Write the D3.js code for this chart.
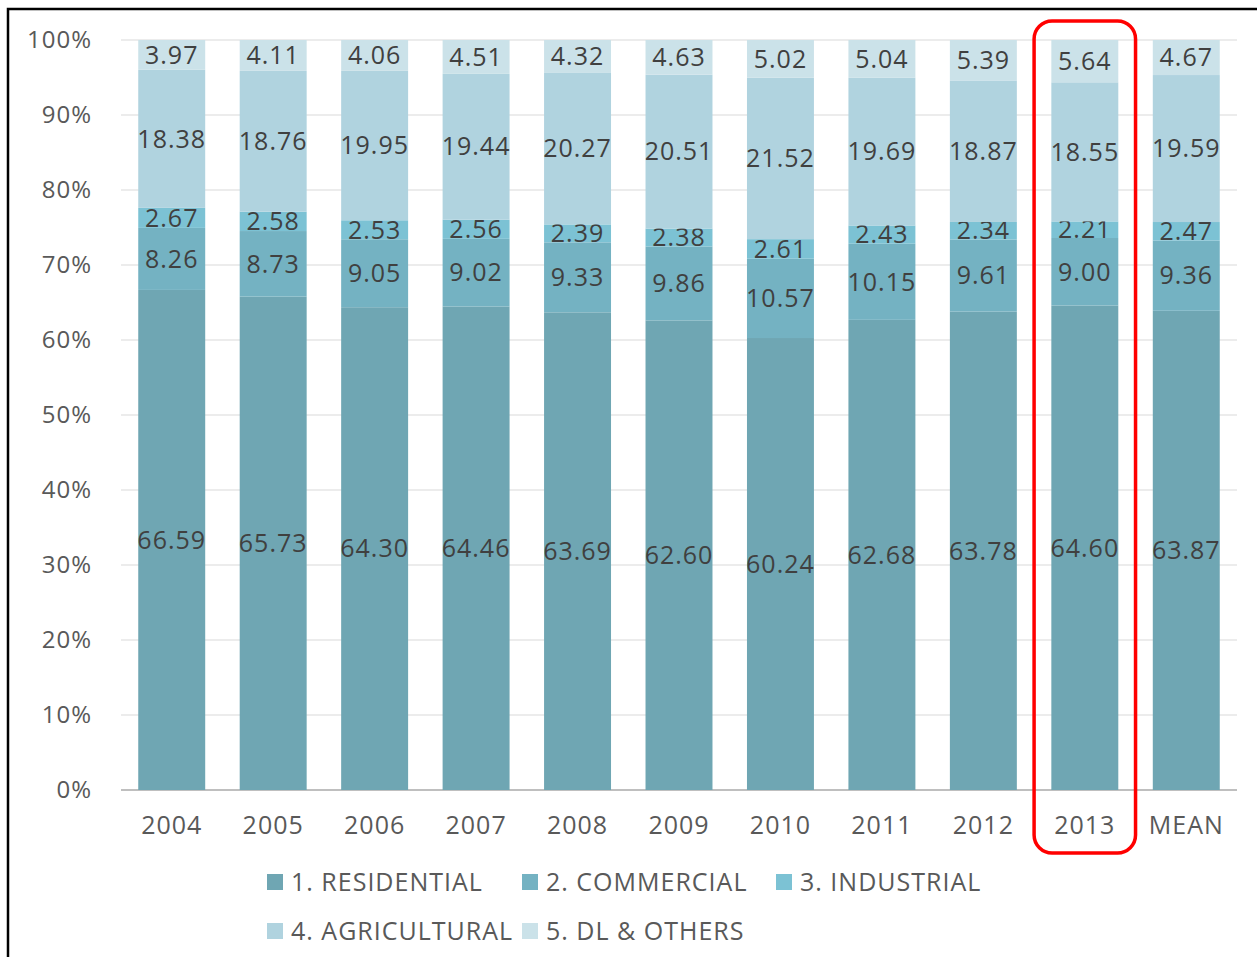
<!DOCTYPE html>
<html>
<head>
<meta charset="utf-8">
<script src="https://cdn.jsdelivr.net/npm/d3@7"></script>
<style>
  body { margin: 0; background: #fff; }
  text { font-family: "Open Sans", "DejaVu Sans", sans-serif; letter-spacing: 1px; }
</style>
</head>
<body>
<div id="chart"></div>
<script>
// categories and series (percent shares)
const categories = ['2004', '2005', '2006', '2007', '2008', '2009', '2010', '2011', '2012', '2013', 'MEAN'];
const seriesNames = ['1. RESIDENTIAL', '2. COMMERCIAL', '3. INDUSTRIAL', '4. AGRICULTURAL', '5. DL & OTHERS'];
const residential = [66.59, 65.73, 64.30, 64.46, 63.69, 62.60, 60.24, 62.68, 63.78, 64.60, 63.87];
const commercial = [8.26, 8.73, 9.05, 9.02, 9.33, 9.86, 10.57, 10.15, 9.61, 9.00, 9.36];
const industrial = [2.67, 2.58, 2.53, 2.56, 2.39, 2.38, 2.61, 2.43, 2.34, 2.21, 2.47];
const agricultural = [18.38, 18.76, 19.95, 19.44, 20.27, 20.51, 21.52, 19.69, 18.87, 18.55, 19.59];
const others = [3.97, 4.11, 4.06, 4.51, 4.32, 4.63, 5.02, 5.04, 5.39, 5.64, 4.67];
const yTicks = [0, 0.1, 0.2, 0.3, 0.4, 0.5, 0.6, 0.7, 0.8, 0.9, 1];
const highlighted = '2013';

const colors = ['#6fa6b3', '#74b2c2', '#7cc2d4', '#b0d3df', '#cbe2e9'];
const seriesValues = [residential, commercial, industrial, agricultural, others];

const width = 1257, height = 957;
const margin = {left: 121, right: 20, top: 40, bottom: 167};

// table for d3.stack, normalized to 100%
const table = categories.map((c, i) => {
    const row = {cat: c};
    seriesNames.forEach((s, j) => row[s] = seriesValues[j][i]);
    return row;
});
const stacked = d3.stack().keys(seriesNames).offset(d3.stackOffsetExpand)(table);

const svg = d3.select('#chart').append('svg')
    .attr('width', width)
    .attr('height', height);

// outer frame (runs off the right/bottom of the picture)
svg.append('rect')
    .attr('x', 8).attr('y', 9)
    .attr('width', 1300).attr('height', 1000)
    .attr('fill', 'none')
    .attr('stroke', '#000')
    .attr('stroke-width', 2.5);

const xScale = d3.scaleBand()
    .domain(categories)
    .range([margin.left, width - margin.right])
    .paddingInner(0.34)
    .paddingOuter(0.17);
const yScale = d3.scaleLinear()
    .domain([0, 1])
    .range([height - margin.bottom, margin.top]);

// gridlines
svg.append('g')
    .selectAll('line')
    .data(yTicks)
    .join('line')
    .attr('x1', margin.left)
    .attr('x2', width - margin.right)
    .attr('y1', d => yScale(d))
    .attr('y2', d => yScale(d))
    .attr('stroke', d => d === 0 ? '#bfbfbf' : '#ececec')
    .attr('stroke-width', 2);

// y axis labels
const yAxis = d3.axisLeft(yScale).tickValues(yTicks).tickFormat(d3.format('.0%')).tickSize(0).tickPadding(29);
const yAxisG = svg.append('g')
    .attr('transform', `translate(${margin.left}, 0)`)
    .call(yAxis);
yAxisG.select('.domain').remove();
yAxisG.selectAll('text')
    .attr('fill', '#595959')
    .style('font-size', '24px');

// bars
const layers = svg.append('g')
    .selectAll('g')
    .data(stacked)
    .join('g')
    .attr('fill', (d, i) => colors[i]);
layers.selectAll('rect')
    .data(d => d)
    .join('rect')
    .attr('x', d => xScale(d.data.cat))
    .attr('width', xScale.bandwidth())
    .attr('y', d => yScale(d[1]))
    .attr('height', d => yScale(d[0]) - yScale(d[1]));

// value labels
layers.each(function(layer) {
    d3.select(this).selectAll('text')
        .data(layer)
        .join('text')
        .attr('x', d => xScale(d.data.cat) + xScale.bandwidth() / 2)
        .attr('y', d => yScale((d[0] + d[1]) / 2))
        .attr('dy', '0.35em')
        .attr('text-anchor', 'middle')
        .attr('fill', '#404040')
        .style('font-size', '25px')
        .text(d => d.data[layer.key].toFixed(2));
});

// x axis labels
const xAxis = d3.axisBottom(xScale).tickSize(0).tickPadding(26);
const xAxisG = svg.append('g')
    .attr('transform', `translate(0, ${yScale(0)})`)
    .call(xAxis);
xAxisG.select('.domain').remove();
xAxisG.selectAll('text')
    .attr('fill', '#595959')
    .style('font-size', '25px');

// highlight box around 2013
const pad = (xScale.step() - xScale.bandwidth()) / 2;
svg.append('rect')
    .attr('x', xScale(highlighted) - pad)
    .attr('y', yScale(1) - 19)
    .attr('width', xScale.step())
    .attr('height', yScale(0) - yScale(1) + 82)
    .attr('rx', 18)
    .attr('fill', 'none')
    .attr('stroke', '#ff0000')
    .attr('stroke-width', 3.5);

// legend
const legendCols = [267, 522, 776];
const legend = svg.append('g')
    .selectAll('g')
    .data(seriesNames)
    .join('g')
    .attr('transform', (d, i) => `translate(${legendCols[i < 3 ? i : i - 3]}, ${i < 3 ? 882 : 931})`);
legend.append('rect')
    .attr('y', -8)
    .attr('width', 16)
    .attr('height', 16)
    .attr('fill', (d, i) => colors[i]);
legend.append('text')
    .attr('x', 24)
    .attr('dy', '0.35em')
    .attr('fill', '#595959')
    .style('font-size', '25px')
    .text(d => d);
</script>
</body>
</html>
